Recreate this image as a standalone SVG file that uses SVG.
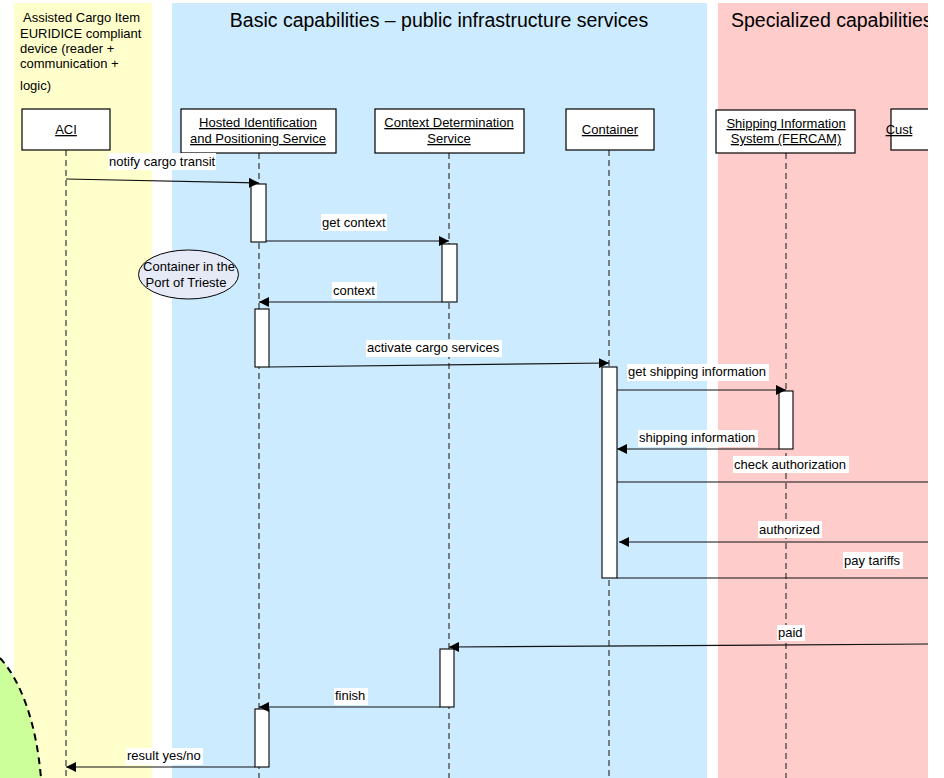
<svg xmlns="http://www.w3.org/2000/svg" width="944" height="778" viewBox="0 0 944 778">
  <style>
    text { font-family: "Liberation Sans", Arial, sans-serif; fill: #000; }
    .lane-title { font-size: 19.5px; }
    .lane-note { font-size: 13px; }
    .node-box { fill: #fff; stroke: #000; stroke-width: 1.2; }
    .node-label { font-size: 13px; text-anchor: middle; text-decoration: underline; }
    .lifeline { stroke: #444; stroke-width: 1.3; stroke-dasharray: 6 4; fill: none; }
    .act { fill: #fff; stroke: #000; stroke-width: 1.1; }
    .msg { stroke: #111; stroke-width: 1.2; fill: none; }
    .msg-arrow { marker-end: url(#arrow); }
    .lbl-bg { fill: #fff; }
    .lbl { font-size: 13px; }
    .note-ellipse { fill: #E6EAF7; stroke: #000; stroke-width: 1; }
  </style>
  <defs>
    <marker id="arrow" viewBox="0 0 10 10" refX="10" refY="5" markerWidth="10" markerHeight="10" markerUnits="userSpaceOnUse" orient="auto">
      <path d="M0,0 L10,5 L0,10 Z" fill="#000"/>
    </marker>
    <clipPath id="page">
      <rect x="0" y="0" width="928" height="778"/>
    </clipPath>
  </defs>

  <rect width="944" height="778" fill="#fff"/>

  <!-- swimlanes -->
  <g id="lanes">
    <rect x="14" y="3" width="138" height="775" fill="#FFFFCC"/>
    <rect x="172" y="3" width="535" height="775" fill="#CCEBFE"/>
    <rect x="718" y="3" width="210" height="775" fill="#FFCCCC"/>
    <text class="lane-title" x="439" y="27" text-anchor="middle">Basic capabilities – public infrastructure services</text>
    <g clip-path="url(#page)">
      <text class="lane-title" x="731" y="27">Specialized capabilities</text>
    </g>
    <text class="lane-note" x="23" y="22">Assisted Cargo Item</text>
    <text class="lane-note" x="20" y="38">EURIDICE compliant</text>
    <text class="lane-note" x="20" y="53">device (reader +</text>
    <text class="lane-note" x="20" y="68">communication  +</text>
    <text class="lane-note" x="20" y="90">logic)</text>
  </g>

  <!-- green region, bottom left -->
  <g id="region">
    <path d="M0,658 C20,680 36,720 41,778 L0,778 Z" fill="#CCFF99"/>
    <path d="M0,658 C20,680 36,720 41,778" fill="none" stroke="#000" stroke-width="2" stroke-dasharray="7 5"/>
  </g>

  <!-- lifelines -->
  <g id="lifelines">
    <line class="lifeline" x1="66" y1="150" x2="66" y2="778"/>
    <line class="lifeline" x1="259" y1="153" x2="259" y2="778"/>
    <line class="lifeline" x1="449" y1="153" x2="449" y2="778"/>
    <line class="lifeline" x1="609" y1="150" x2="609" y2="778"/>
    <line class="lifeline" x1="786" y1="153" x2="786" y2="778"/>
  </g>

  <!-- participants -->
  <g id="aci">
    <rect class="node-box" x="22" y="109" width="88" height="41"/>
    <text class="node-label" x="66" y="134">ACI</text>
  </g>
  <g id="hosted-identification">
    <rect class="node-box" x="181" y="109" width="155" height="44"/>
    <text class="node-label" x="258" y="127">Hosted Identification</text>
    <text class="node-label" x="258" y="143">and Positioning Service</text>
  </g>
  <g id="context-determination">
    <rect class="node-box" x="375" y="109" width="149" height="44"/>
    <text class="node-label" x="449" y="127">Context Determination</text>
    <text class="node-label" x="449" y="143">Service</text>
  </g>
  <g id="container">
    <rect class="node-box" x="566" y="109" width="88" height="41"/>
    <text class="node-label" x="610" y="134">Container</text>
  </g>
  <g id="shipping-information">
    <rect class="node-box" x="716" y="110" width="139" height="43"/>
    <text class="node-label" x="786" y="128">Shipping Information</text>
    <text class="node-label" x="786" y="143">System (FERCAM)</text>
  </g>
  <g id="customs" clip-path="url(#page)">
    <rect class="node-box" x="891" y="109" width="80" height="41"/>
    <text class="node-label" x="899" y="134" text-anchor="start">Cust</text>
  </g>

  <!-- note -->
  <g id="trieste-note">
    <ellipse class="note-ellipse" cx="188.5" cy="274.5" rx="50" ry="24.5"/>
    <text class="lbl" x="189" y="271" text-anchor="middle">Container in the</text>
    <text class="lbl" x="186" y="287" text-anchor="middle">Port of Trieste</text>
  </g>

  <!-- activations -->
  <g id="activations">
    <rect class="act" x="251" y="184" width="15" height="58"/>
    <rect class="act" x="255" y="309" width="14" height="58"/>
    <rect class="act" x="442" y="244" width="15" height="58"/>
    <rect class="act" x="602" y="367" width="15" height="211"/>
    <rect class="act" x="779" y="391" width="14" height="58"/>
    <rect class="act" x="440" y="649" width="14" height="58"/>
    <rect class="act" x="255" y="709" width="14" height="58"/>
  </g>

  <!-- messages -->
  <g id="connectors">
    <line class="msg msg-arrow" x1="66" y1="179" x2="259" y2="183"/>
    <line class="msg msg-arrow" x1="266" y1="241" x2="449" y2="241"/>
    <line class="msg msg-arrow" x1="442" y1="302" x2="259" y2="302"/>
    <line class="msg msg-arrow" x1="269" y1="367" x2="609" y2="363"/>
    <line class="msg msg-arrow" x1="617" y1="390" x2="786" y2="390"/>
    <line class="msg msg-arrow" x1="779" y1="449" x2="617" y2="449"/>
    <line class="msg" x1="617" y1="482" x2="928" y2="482"/>
    <line class="msg msg-arrow" x1="928" y1="542" x2="619" y2="542"/>
    <line class="msg" x1="617" y1="578" x2="928" y2="578"/>
    <line class="msg msg-arrow" x1="928" y1="644" x2="449" y2="647"/>
    <line class="msg msg-arrow" x1="440" y1="707" x2="259" y2="707"/>
    <line class="msg msg-arrow" x1="255" y1="767" x2="66" y2="767"/>
  </g>

  <!-- message labels -->
  <g id="labels">
    <rect class="lbl-bg" x="108" y="153" width="108" height="17"/>
    <text class="lbl" x="109" y="166">notify cargo transit</text>
    <rect class="lbl-bg" x="321" y="214" width="66" height="17"/>
    <text class="lbl" x="322" y="227">get context</text>
    <rect class="lbl-bg" x="332" y="282" width="45" height="17"/>
    <text class="lbl" x="333" y="295">context</text>
    <rect class="lbl-bg" x="366" y="340" width="136" height="17"/>
    <text class="lbl" x="367" y="352">activate cargo services</text>
    <rect class="lbl-bg" x="627" y="364" width="142" height="17"/>
    <text class="lbl" x="628" y="376">get shipping information</text>
    <rect class="lbl-bg" x="638" y="430" width="120" height="17"/>
    <text class="lbl" x="639" y="442">shipping information</text>
    <rect class="lbl-bg" x="733" y="456" width="116" height="17"/>
    <text class="lbl" x="734" y="469">check authorization</text>
    <rect class="lbl-bg" x="758" y="521" width="64" height="17"/>
    <text class="lbl" x="759" y="534">authorized</text>
    <rect class="lbl-bg" x="843" y="552" width="60" height="17"/>
    <text class="lbl" x="844" y="565">pay tariffs</text>
    <rect class="lbl-bg" x="777" y="625" width="28" height="16"/>
    <text class="lbl" x="778" y="637">paid</text>
    <rect class="lbl-bg" x="334" y="688" width="34" height="17"/>
    <text class="lbl" x="335" y="700">finish</text>
    <rect class="lbl-bg" x="126" y="748" width="77" height="17"/>
    <text class="lbl" x="127" y="760">result yes/no</text>
  </g>
</svg>
